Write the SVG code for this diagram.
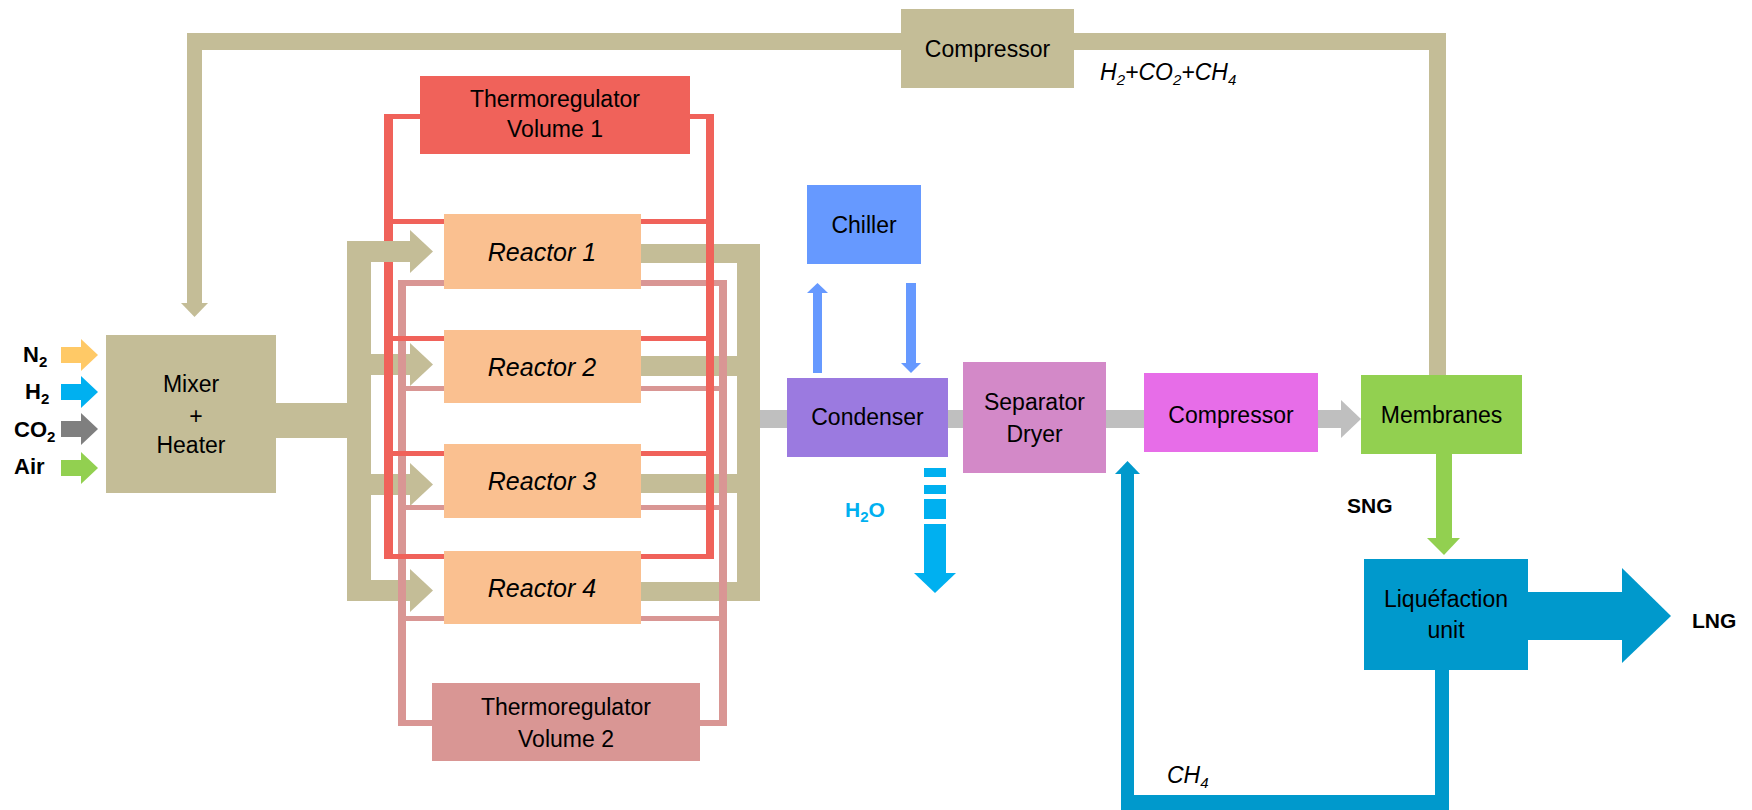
<svg xmlns="http://www.w3.org/2000/svg" width="1752" height="810" viewBox="0 0 1752 810">
<style>
text{font-family:"Liberation Sans",Arial,sans-serif;fill:#000}
.lbl{font-size:23px;text-anchor:middle}
.rx{font-size:25px;font-style:italic;text-anchor:middle}
.bold{font-size:22px;font-weight:bold}
.it{font-size:23px;font-style:italic}
.sub{font-size:15px}
.beige{fill:#C4BD97}
.red{fill:#F0625A}
.pink{fill:#D99694}
.reactor{fill:#FAC090}
.gray{fill:#BFBFBF}
.blue{fill:#0099CC}
</style>
<rect width="1752" height="810" fill="#fff"/>
<g id="connectors">
  <!-- recycle loop from membranes to mixer -->
  <rect class="beige" x="187" y="33" width="1259" height="17"/>
  <rect class="beige" x="187" y="33" width="15" height="271"/>
  <polygon class="beige" points="181,303 208,303 194.5,317"/>
  <rect class="beige" x="1429" y="33" width="17" height="347"/>
  <!-- feed arrows -->
  <rect x="61" y="347" width="21" height="16" fill="#FFC966"/>
  <polygon points="81,339 98,355 81,371" fill="#FFC966"/>
  <rect x="61" y="384" width="21" height="16" fill="#00B0F0"/>
  <polygon points="81,376 98,392 81,408" fill="#00B0F0"/>
  <rect x="61" y="421" width="21" height="16" fill="#7F7F7F"/>
  <polygon points="81,413 98,429 81,445" fill="#7F7F7F"/>
  <rect x="61" y="460" width="21" height="16" fill="#92D050"/>
  <polygon points="81,452 98,468 81,484" fill="#92D050"/>
  <!-- inlet manifold -->
  <rect class="beige" x="276" y="403" width="95" height="35"/>
  <rect class="beige" x="347" y="241" width="24" height="360"/>
  <rect class="beige" x="347" y="354" width="64" height="21"/>
  <polygon class="beige" points="410,343 433,364.5 410,386"/>
  <rect class="beige" x="347" y="474" width="64" height="21"/>
  <polygon class="beige" points="410,463 433,484.5 410,506"/>
  <rect class="beige" x="347" y="580" width="64" height="21"/>
  <polygon class="beige" points="410,569 433,590.5 410,612"/>
  <!-- outlet manifold -->
  <rect class="beige" x="641" y="244" width="119" height="19"/>
  <rect class="beige" x="641" y="356" width="119" height="20"/>
  <rect class="beige" x="641" y="474" width="119" height="19"/>
  <rect class="beige" x="641" y="582" width="119" height="19"/>
  <rect class="beige" x="737" y="244" width="23" height="357"/>
  <!-- thermoregulator 2 loop -->
  <rect class="pink" x="398" y="280" width="329" height="6"/>
  <rect class="pink" x="398" y="280" width="8" height="446"/>
  <rect class="pink" x="719" y="280" width="8" height="446"/>
  <rect class="pink" x="398" y="386" width="329" height="5"/>
  <rect class="pink" x="398" y="505" width="329" height="5"/>
  <rect class="pink" x="398" y="616" width="329" height="5"/>
  <rect class="pink" x="398" y="720" width="329" height="6"/>
  <!-- thermoregulator 1 loop -->
  <rect class="red" x="384" y="114" width="330" height="5"/>
  <rect class="red" x="384" y="114" width="9" height="445"/>
  <rect class="red" x="706" y="114" width="8" height="445"/>
  <rect class="red" x="384" y="219" width="330" height="5"/>
  <rect class="red" x="384" y="336" width="330" height="5"/>
  <rect class="red" x="384" y="451" width="330" height="5"/>
  <rect class="red" x="384" y="554" width="330" height="5"/>
  <!-- feed to reactor 1 (drawn over the loop) -->
  <rect class="beige" x="347" y="241" width="64" height="21"/>
  <polygon class="beige" points="410,230 433,251.5 410,273"/>
  <!-- main gas line -->
  <rect class="gray" x="760" y="410" width="582" height="18"/>
  <polygon class="gray" points="1341,400 1361,419 1341,438"/>
  <!-- chiller loop -->
  <rect x="813" y="292" width="9" height="81" fill="#6699FF"/>
  <polygon points="807,293 817.5,283 828,293" fill="#6699FF"/>
  <rect x="906" y="283" width="10" height="81" fill="#6699FF"/>
  <polygon points="901,363 911,373 921,363" fill="#6699FF"/>
  <!-- water out -->
  <rect x="924" y="468" width="22" height="9" fill="#00B0F0"/>
  <rect x="924" y="485" width="22" height="9" fill="#00B0F0"/>
  <rect x="924" y="499" width="22" height="20" fill="#00B0F0"/>
  <rect x="924" y="524" width="22" height="50" fill="#00B0F0"/>
  <polygon points="914,573 935,593 956,573" fill="#00B0F0"/>
  <!-- SNG -->
  <rect x="1436" y="454" width="16" height="85" fill="#92D050"/>
  <polygon points="1427,538 1444,555 1460,538" fill="#92D050"/>
  <!-- LNG -->
  <rect class="blue" x="1527" y="592" width="96" height="48"/>
  <polygon class="blue" points="1622,568 1671,616 1622,663"/>
  <!-- CH4 return -->
  <rect class="blue" x="1435" y="669" width="14" height="141"/>
  <rect class="blue" x="1121" y="795" width="328" height="15"/>
  <rect class="blue" x="1121" y="473" width="13" height="337"/>
  <polygon class="blue" points="1115,474 1127.5,461 1140,474"/>
</g>
<g id="labels">
  <text class="bold" x="23" y="362">N<tspan class="sub" dy="5">2</tspan></text>
  <text class="bold" x="25" y="399">H<tspan class="sub" dy="5">2</tspan></text>
  <text class="bold" x="14" y="437">CO<tspan class="sub" dy="5">2</tspan></text>
  <text class="bold" x="14" y="474">Air</text>
  <text class="it" x="1100" y="80">H<tspan class="sub" dy="5">2</tspan><tspan dy="-5">+CO</tspan><tspan class="sub" dy="5">2</tspan><tspan dy="-5">+CH</tspan><tspan class="sub" dy="5">4</tspan></text>
  <text x="845" y="517" style="font-size:21px;font-weight:bold;fill:#00B0F0">H<tspan class="sub" dy="5">2</tspan><tspan dy="-5">O</tspan></text>
  <text class="bold" x="1347" y="513" style="font-size:21px">SNG</text>
  <text class="bold" x="1692" y="628" style="font-size:21px">LNG</text>
  <text class="it" x="1167" y="783">CH<tspan class="sub" dy="5">4</tspan></text>
</g>
<g id="compressor-recycle">
  <rect class="beige" x="901" y="9" width="173" height="79"/>
  <text class="lbl" x="987.5" y="57">Compressor</text>
</g>
<g id="mixer-heater">
  <rect class="beige" x="106" y="335" width="170" height="158"/>
  <text class="lbl" x="191" y="392">Mixer</text>
  <text class="lbl" x="196" y="424">+</text>
  <text class="lbl" x="191" y="453">Heater</text>
</g>
<g id="thermoregulator-1">
  <rect class="red" x="420" y="76" width="270" height="78"/>
  <text class="lbl" x="555" y="107">Thermoregulator</text>
  <text class="lbl" x="555" y="137">Volume 1</text>
</g>
<g id="thermoregulator-2">
  <rect class="pink" x="432" y="683" width="268" height="78"/>
  <text class="lbl" x="566" y="715">Thermoregulator</text>
  <text class="lbl" x="566" y="747">Volume 2</text>
</g>
<g id="reactor-1">
  <rect class="reactor" x="444" y="214" width="197" height="75"/>
  <text class="rx" x="542" y="261">Reactor 1</text>
</g>
<g id="reactor-2">
  <rect class="reactor" x="444" y="330" width="197" height="73"/>
  <text class="rx" x="542" y="376">Reactor 2</text>
</g>
<g id="reactor-3">
  <rect class="reactor" x="444" y="444" width="197" height="74"/>
  <text class="rx" x="542" y="490">Reactor 3</text>
</g>
<g id="reactor-4">
  <rect class="reactor" x="444" y="551" width="197" height="73"/>
  <text class="rx" x="542" y="597">Reactor 4</text>
</g>
<g id="chiller">
  <rect x="807" y="185" width="114" height="79" fill="#6699FF"/>
  <text class="lbl" x="864" y="233">Chiller</text>
</g>
<g id="condenser">
  <rect x="787" y="378" width="161" height="79" fill="#9B7AE0"/>
  <text class="lbl" x="867.5" y="425">Condenser</text>
</g>
<g id="separator-dryer">
  <rect x="963" y="362" width="143" height="111" fill="#D389C8"/>
  <text class="lbl" x="1034.5" y="410">Separator</text>
  <text class="lbl" x="1034.5" y="442">Dryer</text>
</g>
<g id="compressor">
  <rect x="1144" y="373" width="174" height="79" fill="#E76DE8"/>
  <text class="lbl" x="1231" y="423">Compressor</text>
</g>
<g id="membranes">
  <rect x="1361" y="375" width="161" height="79" fill="#92D050"/>
  <text class="lbl" x="1441.5" y="423">Membranes</text>
</g>
<g id="liquefaction-unit">
  <rect class="blue" x="1364" y="559" width="164" height="111"/>
  <text class="lbl" x="1446" y="607">Liquéfaction</text>
  <text class="lbl" x="1446" y="638">unit</text>
</g>
</svg>
